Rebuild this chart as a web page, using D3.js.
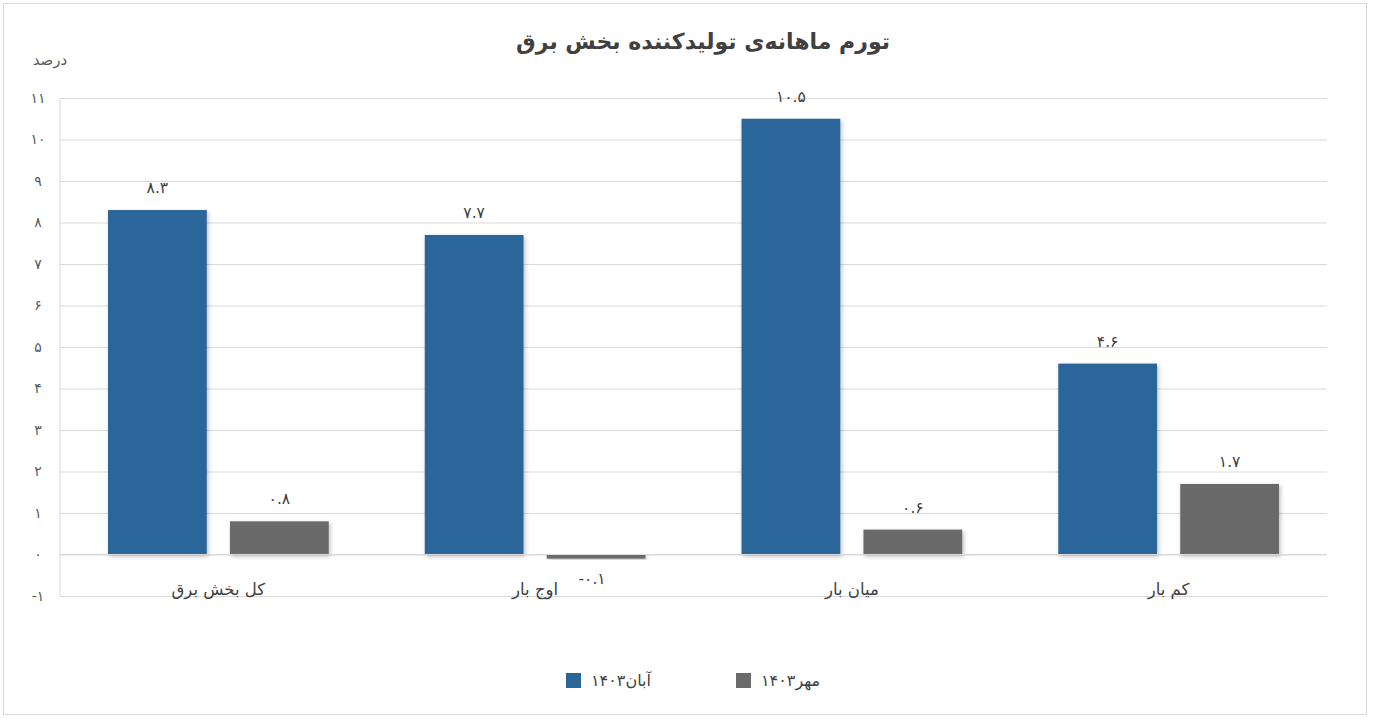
<!DOCTYPE html>
<html>
<head>
<meta charset="utf-8">
<script src="https://cdn.jsdelivr.net/npm/d3@7"></script>
<style>
  body { margin: 0; background: #fff; }
  text { font-family: "DejaVu Sans", "Noto Sans", sans-serif; }
</style>
</head>
<body>
<div id="chart"></div>
<script>
// data
const categories = ["کل بخش برق", "اوج بار", "میان بار", "کم بار"];
const seriesNames = ["آبان۱۴۰۳", "مهر۱۴۰۳"];
const aban = [8.3, 7.7, 10.5, 4.6];
const mehr = [0.8, -0.1, 0.6, 1.7];
const yTicks = [-1, 0, 1, 2, 3, 4, 5, 6, 7, 8, 9, 10, 11];

const colors = ["#2B6699", "#6B6B6B"];
const W = 1374, H = 720;
const margin = {left: 60, right: 47, top: 98, bottom: 124};
const width = W - margin.left - margin.right;
const height = H - margin.top - margin.bottom;

// persian digits
const fa = s => String(s).replace(/\d/g, d => "۰۱۲۳۴۵۶۷۸۹"[d]);

const svg = d3.select("#chart").append("svg")
              .attr("width", W)
              .attr("height", H);

const defs = svg.append("defs");
const f = defs.append("filter").attr("id", "shadow")
              .attr("x", "-10%").attr("y", "-10%").attr("width", "130%").attr("height", "130%");
f.append("feDropShadow").attr("dx", 1.5).attr("dy", 2).attr("stdDeviation", 2)
 .attr("flood-color", "#000").attr("flood-opacity", 0.25);

// outer frame
svg.append("rect")
   .attr("x", 3.5).attr("y", 3.5)
   .attr("width", 1363).attr("height", 711)
   .attr("fill", "#fff")
   .attr("stroke", "#d9d9d9");

svg.append("text")
   .attr("x", 703).attr("y", 49)
   .attr("text-anchor", "middle")
   .style("font-size", "22px")
   .style("font-weight", "bold")
   .style("fill", "#404040")
   .text("تورم ماهانه‌ی تولیدکننده بخش برق");

svg.append("text")
   .attr("x", 50).attr("y", 65)
   .attr("text-anchor", "middle")
   .style("font-size", "15px")
   .style("fill", "#595959")
   .text("درصد");

const g = svg.append("g")
             .attr("transform", "translate(" + margin.left + "," + margin.top + ")");

const x0 = d3.scaleBand().domain(categories).range([0, width]).paddingInner(0).paddingOuter(0);
const x1 = d3.scaleBand().domain([0, 1]).range([48, x0.bandwidth() - 48]).paddingInner(0.19);
const y = d3.scaleLinear().domain([-1, 11]).range([height, 0]);

// grid + y labels
const yAxis = d3.axisLeft(y).tickValues(yTicks).tickSize(-width).tickFormat(fa);
g.append("g")
 .call(yAxis)
 .call(a => a.select(".domain").remove())
 .call(a => a.selectAll(".tick line").attr("stroke", "#d9d9d9"))
 .call(a => a.selectAll(".tick text")
             .attr("x", -22)
             .attr("text-anchor", "middle")
             .style("font-size", "14px")
             .style("fill", "#595959")
             .style("font-family", "DejaVu Sans"));

// left axis line
g.append("line")
 .attr("x1", 0).attr("x2", 0).attr("y1", 0).attr("y2", height)
 .attr("stroke", "#d9d9d9");

const rows = categories.map((c, i) => ({cat: c, vals: [aban[i], mehr[i]]}));

const groups = g.selectAll(".grp")
                .data(rows)
                .enter()
                .append("g")
                .attr("transform", d => "translate(" + x0(d.cat) + ",0)");

groups.selectAll("rect")
      .data(d => d.vals.map((v, k) => ({v, k})))
      .enter()
      .append("rect")
      .attr("x", d => x1(d.k))
      .attr("width", x1.bandwidth())
      .attr("y", d => y(Math.max(0, d.v)))
      .attr("height", d => Math.abs(y(d.v) - y(0)))
      .attr("fill", d => colors[d.k])
      .attr("filter", "url(#shadow)");

groups.selectAll(".val")
      .data(d => d.vals.map((v, k) => ({v, k})))
      .enter()
      .append("text")
      .attr("x", d => x1(d.k) + x1.bandwidth() / 2 - (d.v < 0 ? 4 : 0))
      .attr("y", d => d.v >= 0 ? y(d.v) - 17 : y(d.v) + 25)
      .attr("text-anchor", "middle")
      .style("font-size", "15.5px")
      .style("fill", "#404040")
      .style("direction", "ltr")
      .text(d => fa(d.v.toFixed(1)));

// zero line
g.append("line")
 .attr("x1", 0).attr("x2", width).attr("y1", y(0)).attr("y2", y(0))
 .attr("stroke", "#d9d9d9");

// category labels
g.selectAll(".cat")
 .data(categories)
 .enter()
 .append("text")
 .attr("x", d => x0(d) + x0.bandwidth() / 2)
 .attr("y", y(0) + 40)
 .attr("text-anchor", "middle")
 .style("font-size", "16.5px")
 .style("fill", "#404040")
 .text(d => d);

// legend
const legX = [566, 736];
const leg = svg.selectAll(".leg")
               .data(seriesNames)
               .enter()
               .append("g")
               .attr("transform", (d, i) => "translate(" + legX[i] + ",673)");
leg.append("rect")
   .attr("width", 15).attr("height", 15)
   .attr("fill", (d, i) => colors[i]);
leg.append("text")
   .attr("x", 25).attr("y", 13)
   .attr("text-anchor", "end")
   .style("direction", "rtl")
   .style("font-size", "16px")
   .style("fill", "#404040")
   .text(d => d);
</script>
</body>
</html>
